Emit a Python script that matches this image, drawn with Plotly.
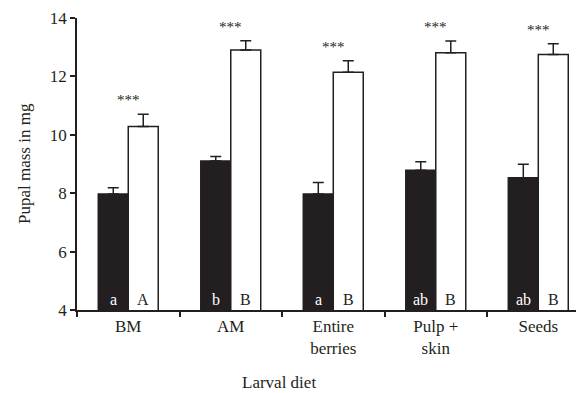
import plotly.graph_objects as go

categories = ["BM", "AM", "Entire<br>berries", "Pulp +<br>skin", "Seeds"]
black_vals = [7.97, 9.10, 7.97, 8.79, 8.53]
black_err = [0.22, 0.16, 0.40, 0.29, 0.46]
white_vals = [10.28, 12.90, 12.14, 12.81, 12.75]
white_err = [0.42, 0.32, 0.40, 0.40, 0.37]
letters_black = ["a", "b", "a", "ab", "ab"]
letters_white = ["A", "B", "B", "B", "B"]
sig_marks = ["***", "***", "***", "***", "***"]
y_ticks = [4, 6, 8, 10, 12, 14]

INK = "#231f20"
FONT = "Liberation Serif"

fig = go.Figure()
fig.add_trace(go.Bar(
    x=categories, y=black_vals,
    marker=dict(color=INK, line=dict(color=INK, width=1.5)),
    error_y=dict(type="data", array=black_err, arrayminus=[0]*5, symmetric=False,
                 color=INK, thickness=1.5, width=5.5),
    showlegend=False,
))
fig.add_trace(go.Bar(
    x=categories, y=white_vals,
    marker=dict(color="white", line=dict(color=INK, width=1.5)),
    error_y=dict(type="data", array=white_err, arrayminus=[0]*5, symmetric=False,
                 color=INK, thickness=1.5, width=5.5),
    showlegend=False,
))

annotations = []
for i, c in enumerate(categories):
    annotations.append(dict(
        x=c, y=white_vals[i] + white_err[i], xref="x", yref="y",
        text=sig_marks[i], showarrow=False, xanchor="center", yanchor="bottom",
        xshift=0, yshift=4, font=dict(size=15, family=FONT, color=INK),
    ))
    annotations.append(dict(
        x=c, y=4, xref="x", yref="y", text=letters_black[i], showarrow=False,
        xanchor="center", yanchor="bottom", xshift=-15, yshift=0,
        font=dict(size=16, family=FONT, color="white"),
    ))
    annotations.append(dict(
        x=c, y=4, xref="x", yref="y", text=letters_white[i], showarrow=False,
        xanchor="center", yanchor="bottom", xshift=15, yshift=0,
        font=dict(size=16, family=FONT, color=INK),
    ))
annotations.append(dict(
    x=-53 / 507, y=0.5, xref="paper", yref="paper", text="Pupal mass in mg",
    showarrow=False, textangle=-90, xanchor="center", yanchor="middle",
    font=dict(size=17, family=FONT, color=INK),
))
annotations.append(dict(
    x=(279 - 77) / 507, y=-(382 - 310) / 292, xref="paper", yref="paper",
    text="Larval diet", showarrow=False, xanchor="center", yanchor="middle",
    font=dict(size=17, family=FONT, color=INK),
))

# page body has an 8px default margin; size the figure to fill the window exactly
fig.update_layout(
    width=576, height=385,
    margin=dict(l=69, r=0, t=10, b=83, autoexpand=False),
    paper_bgcolor="white", plot_bgcolor="white",
    barmode="group", bargap=0.415, bargroupgap=0,
    font=dict(family=FONT, color=INK, size=17),
    annotations=annotations,
)
fig.update_xaxes(
    type="category", range=[-0.5, 4.446], automargin=False,
    showline=True, linecolor=INK, linewidth=1.5,
    ticks="outside", tickson="boundaries", ticklen=5, tickwidth=1.5, tickcolor=INK,
    tickfont=dict(size=17, family=FONT, color=INK),
    showgrid=False, zeroline=False,
)
fig.update_yaxes(
    range=[4, 14], tickvals=y_ticks, automargin=False,
    showline=True, linecolor=INK, linewidth=1.5,
    ticks="outside", ticklen=5, tickwidth=1.5, tickcolor=INK,
    tickfont=dict(size=17, family=FONT, color=INK),
    showgrid=False, zeroline=False,
)

fig.write_html("out.html")
